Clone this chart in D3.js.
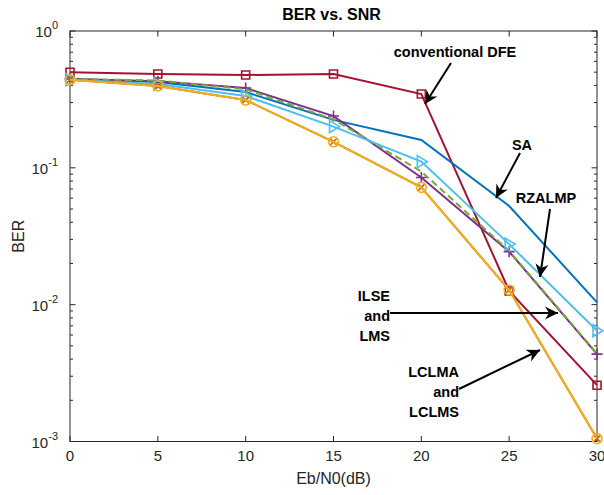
<!DOCTYPE html>
<html><head><meta charset="utf-8">
<script src="https://cdn.jsdelivr.net/npm/d3@7"></script>
<style>body{margin:0;background:#fff}svg{display:block}text{font-family:"Liberation Sans",Arial,sans-serif}</style>
</head><body>
<svg id="c" width="604" height="495"></svg>
<script>
const snr = [0, 5, 10, 15, 20, 25, 30];
const dfe    = [0.50, 0.485, 0.477, 0.485, 0.346, 0.0126, 0.00258];
const sa     = [0.446, 0.424, 0.358, 0.224, 0.160, 0.0526, 0.0104];
const rzalmp = [0.44, 0.41, 0.335, 0.200, 0.111, 0.0277, 0.00645];
const lms    = [0.446, 0.43, 0.383, 0.239, 0.085, 0.0244, 0.00435];
const ilse   = [0.446, 0.435, 0.375, 0.226, 0.094, 0.0247, 0.0044];
const lclmsV = [0.44, 0.397, 0.313, 0.155, 0.072, 0.0128, 0.00105];
const lclmaV = [0.44, 0.397, 0.313, 0.155, 0.072, 0.0128, 0.00105];
const xTicks = [0, 5, 10, 15, 20, 25, 30];
const yExps = [0, -1, -2, -3];

const svg = d3.select("#c");
const L = 70, R = 597, T = 31, B = 441.5;
const x = d3.scaleLinear().domain([0, 30]).range([L, R]);
const y = d3.scaleLog().domain([1e-3, 1]).range([B, T]);
const axc = "#262626";

// title & labels
svg.append("text").attr("x", (L + R) / 2 - 2).attr("y", 20).attr("text-anchor", "middle")
  .attr("font-weight", "bold").attr("font-size", 16).attr("fill", "#000").text("BER vs. SNR");
svg.append("text").attr("x", (L + R) / 2).attr("y", 484).attr("text-anchor", "middle")
  .attr("font-size", 16).attr("fill", axc).text("Eb/N0(dB)");
svg.append("text").attr("transform", `translate(24,${(T + B) / 2}) rotate(-90)`).attr("text-anchor", "middle")
  .attr("font-size", 16).attr("fill", axc).text("BER");

// ticks
const g = svg.append("g");
xTicks.forEach(t => {
  g.append("line").attr("x1", x(t)).attr("x2", x(t)).attr("y1", B).attr("y2", B - 5.5).attr("stroke", axc);
  g.append("line").attr("x1", x(t)).attr("x2", x(t)).attr("y1", T).attr("y2", T + 5.5).attr("stroke", axc);
  g.append("text").attr("x", x(t)).attr("y", B + 19).attr("text-anchor", "middle").attr("font-size", 15).attr("fill", axc).text(t);
});
yExps.forEach(e => {
  const v = Math.pow(10, e);
  g.append("line").attr("x1", L).attr("x2", L + 5.5).attr("y1", y(v)).attr("y2", y(v)).attr("stroke", axc);
  g.append("line").attr("x1", R).attr("x2", R - 5.5).attr("y1", y(v)).attr("y2", y(v)).attr("stroke", axc);
  const tx = g.append("text").attr("x", L - 12).attr("y", y(v) + 6).attr("text-anchor", "end").attr("font-size", 15).attr("fill", axc);
  tx.append("tspan").text("10");
  tx.append("tspan").attr("dy", -8).attr("font-size", 11).text(e);
  if (e > -3) {
    for (let m = 2; m <= 9; m++) {
      const mv = v * m / 10;
      g.append("line").attr("x1", L).attr("x2", L + 3).attr("y1", y(mv)).attr("y2", y(mv)).attr("stroke", axc);
      g.append("line").attr("x1", R).attr("x2", R - 3).attr("y1", y(mv)).attr("y2", y(mv)).attr("stroke", axc);
    }
  }
});
svg.append("rect").attr("x", L).attr("y", T).attr("width", R - L).attr("height", B - T)
  .attr("fill", "none").attr("stroke", axc).attr("stroke-width", 1);

const line = d3.line().x((d, i) => x(snr[i])).y(d => y(d));
const plot = svg.append("g");
function series(vals, color, marker, dash) {
  plot.append("path").attr("d", line(vals)).attr("fill", "none").attr("stroke", color)
    .attr("stroke-width", 2).attr("stroke-dasharray", dash || null);
  if (!marker) return;
  vals.forEach((v, i) => {
    const cx = x(snr[i]), cy = y(v);
    const m = plot.append("path").attr("fill", "none").attr("stroke", color).attr("stroke-width", 1.6);
    let p;
    if (marker === "square") p = `M${cx - 4},${cy - 4}h8v8h-8z`;
    else if (marker === "plus") p = `M${cx - 5.5},${cy}h11M${cx},${cy - 5.5}v11`;
    else if (marker === "tri") p = `M${cx - 4},${cy - 6}L${cx + 6},${cy}L${cx - 4},${cy + 6}z`;
    else if (marker === "circle") p = `M${cx + 5},${cy}A5,5 0 1,1 ${cx - 5},${cy}A5,5 0 1,1 ${cx + 5},${cy}`;
    else if (marker === "x") p = `M${cx - 3.5},${cy - 3.5}L${cx + 3.5},${cy + 3.5}M${cx - 3.5},${cy + 3.5}L${cx + 3.5},${cy - 3.5}`;
    m.attr("d", p);
  });
}
series(dfe, "#A2142F", "square");
series(sa, "#0072BD", null);
series(lms, "#7E2F8E", "plus");
series(ilse, "#77AC30", null, "7,4");
series(rzalmp, "#4DBEEE", "tri");
series(lclmsV, "#D95319", "x");
series(lclmaV, "#EDB120", "circle");

// annotations
const ann = svg.append("g");
function arrow(x1, y1, x2, y2) {
  ann.append("line").attr("x1", x1).attr("y1", y1).attr("x2", x2).attr("y2", y2).attr("stroke", "#000").attr("stroke-width", 2);
  const a = Math.atan2(y2 - y1, x2 - x1), len = 13, w = 6.5, back = 9;
  const ux = Math.cos(a), uy = Math.sin(a), px = -uy, py = ux;
  const bx = x2 - ux * len, by = y2 - uy * len;
  const nx = x2 - ux * back, ny = y2 - uy * back;
  ann.append("path").attr("d", `M${x2},${y2}L${bx + px * w},${by + py * w}L${nx},${ny}L${bx - px * w},${by - py * w}Z`).attr("fill", "#000");
}
function label(lines, xx, yy, anchor) {
  const t = ann.append("text").attr("font-weight", "bold").attr("font-size", 14.5).attr("fill", "#000").attr("text-anchor", anchor);
  lines.forEach((s, i) => t.append("tspan").attr("x", xx).attr("y", yy + i * 20).text(s));
}
label(["conventional DFE"], 455, 57, "middle");
arrow(451, 63, 425, 104);
label(["SA"], 522, 150, "middle");
arrow(520, 153, 496, 198);
label(["RZALMP"], 546, 203, "middle");
arrow(550, 209, 540, 277);
label(["ILSE", "and", "LMS"], 390, 301, "end");
arrow(390, 313, 558, 313);
label(["LCLMA", "and", "LCLMS"], 459, 377, "end");
arrow(459, 389, 540, 350);
</script>
</body></html>
